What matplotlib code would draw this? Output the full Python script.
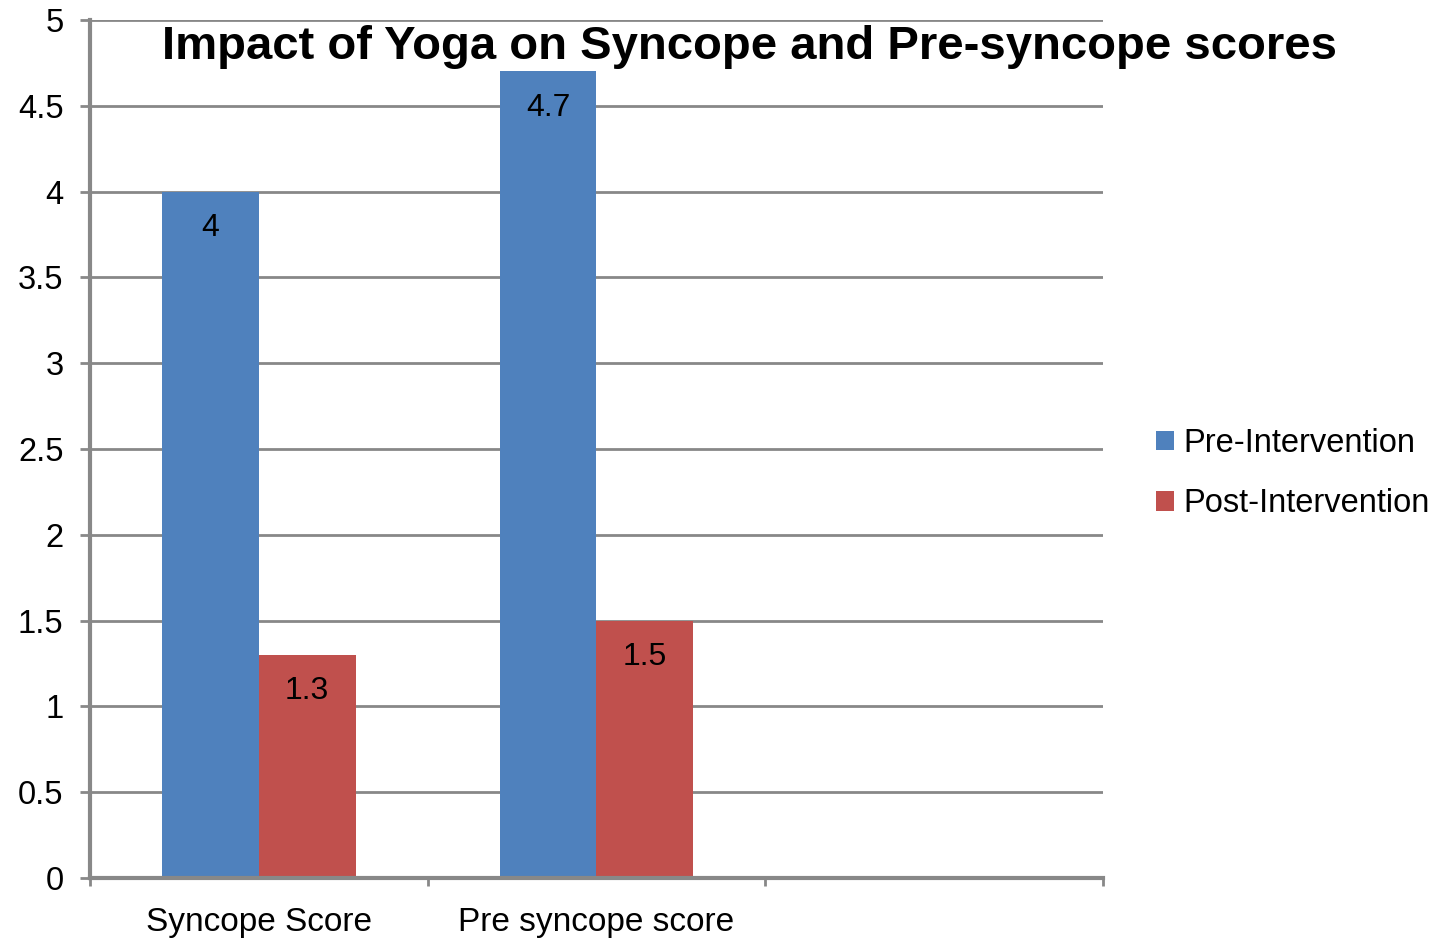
import numpy as np
import matplotlib.pyplot as plt

# scores before / after the yoga programme
categories = ['Syncope Score', 'Pre syncope score', '']
pre_scores = [4.0, 4.7, np.nan]
post_scores = [1.3, 1.5, np.nan]
series_names = ['Pre-Intervention', 'Post-Intervention']

plt.rcParams['font.family'] = ['Liberation Sans', 'DejaVu Sans']

fig = plt.figure(figsize=(14.46, 9.4), dpi=100)
ax = fig.add_axes([0.0622, 0.066, 0.7006, 0.9127])

x = np.arange(len(categories))
w = 0.287
grey = '#888888'

b1 = ax.bar(x - w / 2, pre_scores, w, color='#4F81BD', label=series_names[0], zorder=3)
b2 = ax.bar(x + w / 2, post_scores, w, color='#C0504D', label=series_names[1], zorder=3)

# value labels just inside the top of each bar
for bars, vals in ((b1, pre_scores), (b2, post_scores)):
    for rect, v in zip(bars, vals):
        if np.isnan(v):
            continue
        ax.annotate(f'{v:g}', (rect.get_x() + rect.get_width() / 2, v),
                    xytext=(0, -26), textcoords='offset points',
                    ha='center', va='center', fontsize=23, zorder=4)

ax.set_xlim(-0.5, 2.5)
ax.set_ylim(0, 5)
ax.set_yticks(np.arange(0, 5.01, 0.5))
ax.set_yticklabels(['0', '0.5', '1', '1.5', '2', '2.5', '3', '3.5', '4', '4.5', '5'])
ax.yaxis.grid(True, color=grey, linewidth=2, zorder=0)

# category boundaries as ticks, names centred between them
ax.set_xticks([-0.5, 0.5, 1.5, 2.5])
ax.set_xticklabels([])
ax.set_xticks(x, minor=True)
ax.set_xticklabels(categories, minor=True)
ax.tick_params(axis='x', which='major', length=6, width=2, color=grey, direction='out')
ax.tick_params(axis='x', which='minor', length=0, pad=21, labelsize=24)
ax.tick_params(axis='y', length=7, width=2, color=grey, pad=12, labelsize=23.5)

for side in ('top', 'right'):
    ax.spines[side].set_visible(False)
for side in ('left', 'bottom'):
    ax.spines[side].set_color(grey)
    ax.spines[side].set_linewidth(3)
    ax.spines[side].set_zorder(5)

fig.text(0.518, 0.950, 'Impact of Yoga on Syncope and Pre-syncope scores',
         ha='center', va='center', fontsize=34, fontweight='bold')

fig.legend(handles=[b1, b2], labels=series_names, loc='center left',
           bbox_to_anchor=(0.7905, 0.496), frameon=False, fontsize=23.5,
           handlelength=0.55, handleheight=0.55, handletextpad=0.3,
           labelspacing=0.9, borderaxespad=0)

fig.savefig('out.png', dpi=100)
